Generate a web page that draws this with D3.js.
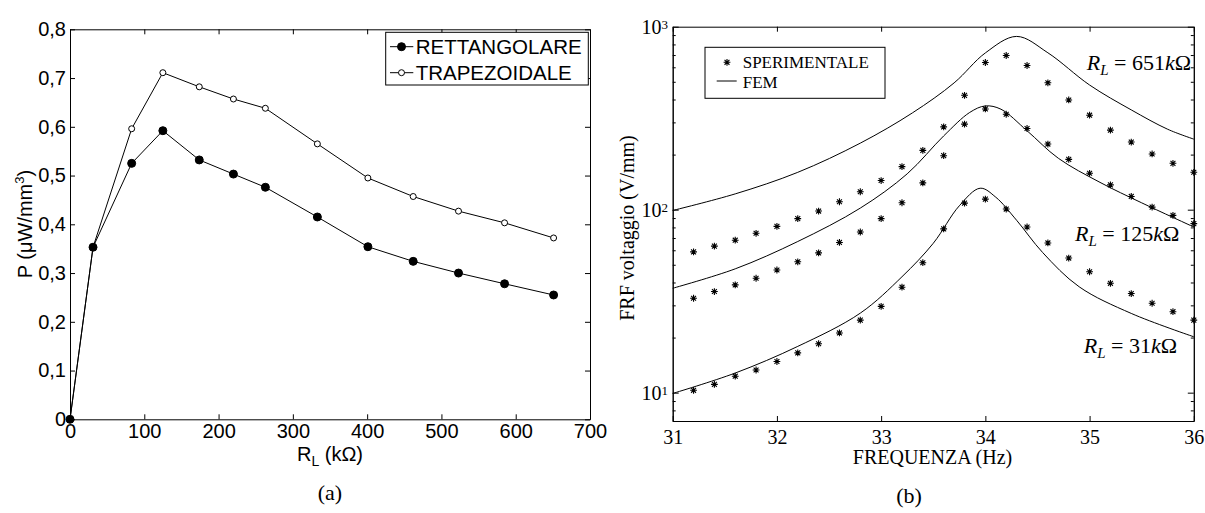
<!DOCTYPE html>
<html lang="it">
<head>
<meta charset="UTF-8">
<title>Potenza e FRF</title>
<script src="https://cdn.jsdelivr.net/npm/d3@7"></script>
<style>
    body { margin: 0; background: #fff; }
    .axis path, .axis line { stroke: #000; stroke-width: 1; }
    .axis text { fill: #000; }
    .pa text { font-family: "Liberation Sans", Arial, sans-serif; font-size: 20px; }
    .pb text { font-family: "Liberation Serif", "Times New Roman", serif; font-size: 20px; }
</style>
</head>
<body>
<script>
// (a) potenza specifica in funzione del carico
var rCarico = [0, 31, 83, 125, 174, 220, 263, 333, 401, 462, 523, 585, 651];
var pRett   = [0, 0.353, 0.525, 0.592, 0.532, 0.503, 0.476, 0.415, 0.354, 0.324, 0.300, 0.278, 0.255];
var pTrap   = [0, 0.353, 0.596, 0.711, 0.682, 0.657, 0.638, 0.565, 0.495, 0.457, 0.427, 0.403, 0.372];
var ticksR  = [0, 100, 200, 300, 400, 500, 600, 700];
var ticksP  = [0, 0.1, 0.2, 0.3, 0.4, 0.5, 0.6, 0.7, 0.8];

// (b) FRF in tensione, punti sperimentali ogni 0.2 Hz
var freqExp = [31.2, 31.4, 31.6, 31.8, 32.0, 32.2, 32.4, 32.6, 32.8, 33.0, 33.2, 33.4, 33.6,
               33.8, 34.0, 34.2, 34.4, 34.6, 34.8, 35.0, 35.2, 35.4, 35.6, 35.8, 36.0];
var exp651 = [58.8, 63.2, 68.1, 74.3, 81.1, 89.4, 98.3, 110.5, 125.3, 144.3, 171.9, 210.9, 283.6,
              421.7, 637.4, 695.9, 613.8, 493.7, 397.7, 328.3, 272.2, 234.2, 201.6, 179.2, 160.1];
var exp125 = [32.8, 35.7, 38.8, 42.2, 46.8, 51.9, 58.1, 66.2, 75.5, 89.4, 109.1, 140.2, 197.3,
              293.4, 355.2, 332.4, 277.7, 228.4, 188.4, 158.1, 136.7, 118.1, 103.3, 93.1, 83.9];
var exp31  = [10.3, 11.1, 12.3, 13.3, 14.8, 16.5, 18.5, 21.2, 24.9, 29.6, 37.7, 51.3, 78.5,
              108.6, 114.2, 100.8, 80.4, 65.8, 54.4, 45.8, 39.6, 34.8, 30.8, 27.7, 24.9];

// curve FEM
var femF651 = [31.0, 31.6, 32.2, 32.8, 33.3, 33.7, 34.0, 34.3, 34.6, 35.0, 35.4, 35.75, 36.0];
var femV651 = [99, 122, 160, 231, 338, 493, 719, 885, 720, 480, 351, 275, 243];
var femF125 = [31.0, 31.6, 32.2, 32.8, 33.25, 33.6, 33.85, 34.0, 34.15, 34.4, 34.7, 35.1, 35.5, 36.0];
var femV125 = [37.2, 47.5, 67, 102, 157, 253, 340, 369, 354, 270, 191, 141, 109, 80.4];
var femF31  = [31.0, 31.6, 32.2, 32.8, 33.2, 33.5, 33.75, 33.95, 34.1, 34.3, 34.55, 34.9, 35.4, 36.0];
var femV31  = [9.9, 12.8, 17.9, 27.2, 43, 65.5, 105, 131, 117, 87.5, 58.3, 37.9, 27.1, 20.2];

var ticksF  = [31, 32, 33, 34, 35, 36];
var decadi  = [10, 100, 1000];
var carichi = ["651", "125", "31"];

var svg = d3.select("body").append("svg")
        .attr("width", 1205)
        .attr("height", 513);

// ---------------- (a) ----------------
var xA = d3.scaleLinear().domain([0, 700]).range([70, 590]);
var yA = d3.scaleLinear().domain([0, 0.8]).range([419.3, 29.3]);
var virgola = function (d) { return d === 0 ? "0" : d3.format(".1f")(d).replace(".", ","); };

var ga = svg.append("g").attr("class", "pa");

ga.append("g").attr("class", "axis")
        .attr("transform", "translate(0,419.3)")
        .call(d3.axisBottom(xA).tickValues(ticksR).tickSizeInner(-5).tickSizeOuter(0).tickPadding(5));
ga.append("g").attr("class", "axis")
        .attr("transform", "translate(0,29.3)")
        .call(d3.axisTop(xA).tickValues(ticksR).tickSizeInner(-5).tickSizeOuter(0).tickFormat(""));
ga.append("g").attr("class", "axis")
        .attr("transform", "translate(70,0)")
        .call(d3.axisLeft(yA).tickValues(ticksP).tickSizeInner(-5).tickSizeOuter(0).tickPadding(4).tickFormat(virgola));
ga.append("g").attr("class", "axis")
        .attr("transform", "translate(590,0)")
        .call(d3.axisRight(yA).tickValues(ticksP).tickSizeInner(-5).tickSizeOuter(0).tickFormat(""));

var lineaA = d3.line()
        .x(function (d, i) { return xA(rCarico[i]); })
        .y(function (d) { return yA(d); });

[pTrap, pRett].forEach(function (serie, k) {
    ga.append("path")
            .attr("d", lineaA(serie))
            .attr("fill", "none")
            .attr("stroke", "#000")
            .attr("stroke-width", 1);
    ga.selectAll(null).data(serie).enter().append("circle")
            .attr("cx", function (d, i) { return xA(rCarico[i]); })
            .attr("cy", function (d) { return yA(d); })
            .attr("r", k === 0 ? 3 : 4)
            .attr("fill", k === 0 ? "#fff" : "#000")
            .attr("stroke", "#000")
            .attr("stroke-width", 1);
});

// legenda (a)
var legA = ga.append("g");
legA.append("rect")
        .attr("x", 385.7).attr("y", 32.3)
        .attr("width", 202.6).attr("height", 52.7)
        .attr("fill", "#fff").attr("stroke", "#000");
[["RETTANGOLARE", 46.7, true], ["TRAPEZOIDALE", 72.7, false]].forEach(function (v) {
    legA.append("line")
            .attr("x1", 390).attr("x2", 413.3)
            .attr("y1", v[1]).attr("y2", v[1])
            .attr("stroke", "#000");
    legA.append("circle")
            .attr("cx", 401.5).attr("cy", v[1])
            .attr("r", v[2] ? 4 : 3)
            .attr("fill", v[2] ? "#000" : "#fff")
            .attr("stroke", "#000");
    legA.append("text")
            .attr("x", 415.7).attr("y", v[1])
            .attr("dy", "0.36em")
            .style("font-size", "20.5px")
            .text(v[0]);
});

// titoli assi (a)
var ylabA = ga.append("text")
        .attr("transform", "translate(25,224) rotate(-90)")
        .attr("text-anchor", "middle")
        .attr("dy", "0.36em");
ylabA.append("tspan").text("P (\u03BCW/mm");
ylabA.append("tspan").attr("dy", -8).style("font-size", "13px").text("3");
ylabA.append("tspan").attr("dy", 8).text(")");

var xlabA = ga.append("text")
        .attr("x", 330).attr("y", 461)
        .attr("text-anchor", "middle");
xlabA.append("tspan").text("R");
xlabA.append("tspan").attr("dy", 5).style("font-size", "14px").text("L");
xlabA.append("tspan").attr("dy", -5).text(" (k\u03A9)");

svg.append("text")
        .attr("x", 330).attr("y", 500)
        .attr("text-anchor", "middle")
        .style("font-family", "'Liberation Serif', serif")
        .style("font-size", "22px")
        .text("(a)");

// ---------------- (b) ----------------
var xB = d3.scaleLinear().domain([31, 36]).range([672.7, 1193.8]);
var yB = d3.scaleLog().domain([7, 1000]).range([421, 26.7]);
var minori = yB.ticks().filter(function (d) { return decadi.indexOf(d) < 0; });

var gb = svg.append("g").attr("class", "pb");

gb.append("g").attr("class", "axis")
        .attr("transform", "translate(0,421)")
        .call(d3.axisBottom(xB).tickValues(ticksF).tickSizeInner(-5).tickSizeOuter(0).tickPadding(9).tickFormat(d3.format("d")));
gb.append("g").attr("class", "axis")
        .attr("transform", "translate(0,26.7)")
        .call(d3.axisTop(xB).tickValues(ticksF).tickSizeInner(-5).tickSizeOuter(0).tickFormat(""));
[["L", 672.7], ["R", 1193.8]].forEach(function (s) {
    var asse = s[0] === "L" ? d3.axisLeft : d3.axisRight;
    gb.append("g").attr("class", "axis")
            .attr("transform", "translate(" + s[1] + ",0)")
            .call(asse(yB).tickValues(decadi).tickSizeInner(-6).tickSizeOuter(0).tickFormat(""));
    gb.append("g").attr("class", "axis")
            .attr("transform", "translate(" + s[1] + ",0)")
            .call(asse(yB).tickValues(minori).tickSizeInner(-3).tickSizeOuter(0).tickFormat(""));
});

// etichette 10^n
decadi.forEach(function (d) {
    var t = gb.append("text")
            .attr("x", 668).attr("y", yB(d) + 7)
            .attr("text-anchor", "end");
    t.append("tspan").text("10");
    t.append("tspan").attr("dy", -5).style("font-size", "13px").text(Math.round(Math.log10(d)));
});

// curve FEM
var lineaB = d3.line().curve(d3.curveCatmullRom.alpha(0.5));
[[femF651, femV651], [femF125, femV125], [femF31, femV31]].forEach(function (c) {
    gb.append("path")
            .attr("d", lineaB(c[0].map(function (f, i) { return [xB(f), yB(c[1][i])]; })))
            .attr("fill", "none")
            .attr("stroke", "#000")
            .attr("stroke-width", 1);
});

// asterisco
function stella(r) {
    var a = r * 0.72;
    return "M" + (-r) + ",0H" + r + "M0," + (-r) + "V" + r +
           "M" + (-a) + "," + (-a) + "L" + a + "," + a +
           "M" + (-a) + "," + a + "L" + a + "," + (-a);
}
[exp651, exp125, exp31].forEach(function (serie) {
    gb.selectAll(null).data(serie).enter().append("path")
            .attr("d", stella(3.4))
            .attr("transform", function (d, i) { return "translate(" + xB(freqExp[i]) + "," + yB(d) + ")"; })
            .attr("fill", "none")
            .attr("stroke", "#000")
            .attr("stroke-width", 1.1);
});

// etichette carichi
var posCarico = [[1086.7, 70], [1075, 241], [1083.8, 353]];
carichi.forEach(function (c, i) {
    var t = gb.append("text")
            .attr("x", posCarico[i][0]).attr("y", posCarico[i][1])
            .style("font-size", "22px");
    t.append("tspan").style("font-style", "italic").text("R");
    t.append("tspan").attr("dy", 5).style("font-style", "italic").style("font-size", "15px").text("L");
    t.append("tspan").attr("dy", -5).text(" = " + c);
    t.append("tspan").style("font-style", "italic").text("k");
    t.append("tspan").text("\u03A9");
});

// legenda (b)
var legB = gb.append("g");
legB.append("rect")
        .attr("x", 705).attr("y", 47.3)
        .attr("width", 180).attr("height", 51)
        .attr("fill", "#fff").attr("stroke", "#000");
legB.append("path")
        .attr("d", stella(3.4))
        .attr("transform", "translate(727,62.3)")
        .attr("fill", "none").attr("stroke", "#000").attr("stroke-width", 1.1);
legB.append("line")
        .attr("x1", 716.7).attr("x2", 736.7)
        .attr("y1", 81).attr("y2", 81)
        .attr("stroke", "#000");
legB.append("text").attr("x", 742.7).attr("y", 62.5).attr("dy", "0.34em")
        .style("font-size", "17px").text("SPERIMENTALE");
legB.append("text").attr("x", 742.7).attr("y", 82).attr("dy", "0.34em")
        .style("font-size", "17px").text("FEM");

// titoli assi (b)
gb.append("text")
        .attr("transform", "translate(627,228) rotate(-90)")
        .attr("text-anchor", "middle")
        .attr("dy", "0.34em")
        .text("FRF voltaggio (V/mm)");
gb.append("text")
        .attr("x", 932.5).attr("y", 464)
        .attr("text-anchor", "middle")
        .text("FREQUENZA (Hz)");
gb.append("text")
        .attr("x", 909).attr("y", 503)
        .attr("text-anchor", "middle")
        .style("font-size", "22px")
        .text("(b)");
</script>
</body>
</html>
